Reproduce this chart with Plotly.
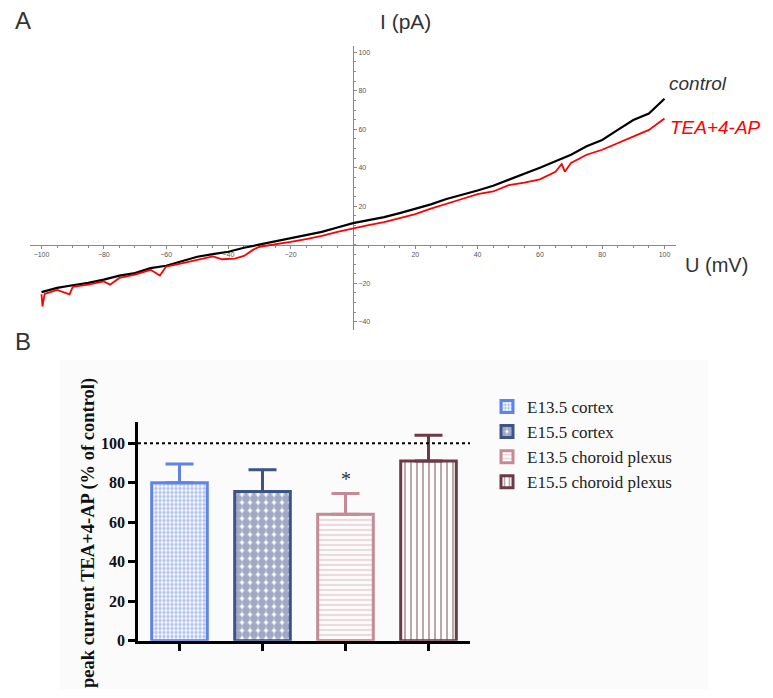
import plotly.graph_objects as go

# ---------------- Panel A data ----------------
u_control = [-100, -97.5, -95, -90, -85, -80, -75, -70, -65, -60, -55, -50, -45, -40, -35, -30, -25,
             -20, -15, -10, -5, 0, 5, 10, 15, 20, 25, 30, 35, 40, 45, 50, 55, 60, 65, 70, 75, 80,
             85, 90, 95, 100]
i_control = [-24.6, -23.5, -22.4, -21.0, -19.8, -18.1, -16.0, -14.7, -12.1, -10.9, -8.7, -6.2, -4.8,
             -3.6, -1.5, 0.2, 1.8, 3.2, 5.0, 6.7, 9.0, 11.3, 12.8, 14.4, 16.5, 18.6, 21.0, 23.8,
             25.8, 28.2, 30.7, 33.8, 36.6, 40.0, 43.4, 46.8, 51.2, 54.5, 59.7, 64.8, 68.2, 75.9]

u_tea = [-100, -99.7, -99, -95, -91, -90, -85, -80, -78, -75, -70, -65, -62, -60, -55, -50, -45,
         -42, -38, -35, -32, -30, -25, -20, -15, -10, -5, 0, 5, 10, 15, 20, 25, 30, 35, 40, 45,
         50, 55, 60, 65, 67, 68, 70, 75, 80, 85, 90, 95, 100]
i_tea = [-25.7, -32.0, -25.5, -23.4, -25.7, -21.9, -20.7, -19.0, -20.7, -17.2, -15.5, -13.0, -16.0,
         -11.3, -9.6, -7.7, -6.0, -7.5, -7.2, -5.8, -2.5, -1.0, 0.2, 1.5, 3.0, 4.6, 6.7, 8.6, 10.2,
         11.8, 13.8, 16.0, 18.8, 21.5, 23.8, 26.3, 27.7, 31.0, 32.3, 34.0, 37.9, 42.0, 38.0, 42.6,
         46.8, 49.4, 52.8, 56.4, 59.7, 65.6]

x_ticks_a = [-100, -80, -60, -40, -20, 20, 40, 60, 80, 100]
y_ticks_a = [-40, -20, 20, 40, 60, 80, 100]

# ---------------- Panel B data ----------------
groups = ["E13.5 cortex", "E15.5 cortex", "E13.5 choroid plexus", "E15.5 choroid plexus"]
means = [80, 75.5, 64, 91]
sems = [9.5, 11, 10.5, 13]
y_ticks_b = [0, 20, 40, 60, 80, 100]

colors = ["#5f84e6", "#3e5488", "#c48b96", "#6c3a47"]
patterns = [".", ".", "-", "|"]
psizes = [4, 8, 5, 6]
psolid = [0.6, 0.75, 0.3, 0.3]

W, H = 773, 698
def px(x): return x / W
def py(y): return 1 - y / H

fig = go.Figure()

fig.add_trace(go.Scatter(x=u_control, y=i_control, mode="lines", line=dict(color="#000000", width=2.2),
                         xaxis="x", yaxis="y", showlegend=False, hoverinfo="skip"))
fig.add_trace(go.Scatter(x=u_tea, y=i_tea, mode="lines", line=dict(color="#ff0000", width=1.8),
                         xaxis="x", yaxis="y", showlegend=False, hoverinfo="skip"))

for k in range(4):
    fig.add_trace(go.Bar(
        x=[groups[k]], y=[means[k]], name=groups[k], xaxis="x2", yaxis="y2", width=0.67,
        marker=dict(color="white", line=dict(color=colors[k], width=3),
                    pattern=dict(shape=patterns[k], fgcolor=colors[k], bgcolor="white",
                                 size=psizes[k], solidity=psolid[k], fillmode="overlay")),
        error_y=dict(type="data", symmetric=False, array=[sems[k]], arrayminus=[0],
                     color=colors[k], thickness=3, width=14),
    ))

axA_font = dict(family="Liberation Sans", size=7, color="#555")
fig.update_layout(
    width=W, height=H, margin=dict(l=0, r=0, t=0, b=0),
    paper_bgcolor="white", plot_bgcolor="rgba(0,0,0,0)",
    barmode="overlay",
    xaxis=dict(domain=[px(30), px(676)], range=[-103.7, 103.7], anchor="free", position=py(248),
               showgrid=False, zeroline=False, showline=True, linecolor="#888", linewidth=1,
               tickvals=x_ticks_a, ticks="outside", ticklen=3, tickcolor="#888",
               minor=dict(ticks="outside", dtick=5, ticklen=2, tickcolor="#888"),
               tickfont=axA_font, layer="below traces"),
    yaxis=dict(domain=[py(334), py(47)], range=[-44.1, 103.1], anchor="free", position=px(353),
               side="right", showgrid=False, zeroline=False, showline=True, linecolor="#888",
               linewidth=1, tickvals=y_ticks_a, ticks="outside", ticklen=3, tickcolor="#888",
               minor=dict(ticks="outside", dtick=5, ticklen=2, tickcolor="#888"),
               tickfont=axA_font, layer="below traces"),
    xaxis2=dict(domain=[px(138), px(470)], range=[-0.5, 3.5], anchor="y2", type="category",
                showgrid=False, zeroline=False, showline=True, linecolor="#000", linewidth=2.5,
                ticks="outside", ticklen=8, tickwidth=2.5, tickcolor="#000", showticklabels=False),
    yaxis2=dict(domain=[py(649), py(428)], range=[0, 110.5], anchor="x2",
                showgrid=False, zeroline=False, showline=True, linecolor="#000", linewidth=2.5,
                tickvals=y_ticks_b, ticks="outside", ticklen=7, tickwidth=2.5, tickcolor="#000",
                tickfont=dict(family="Liberation Serif", size=16, color="#111", weight="bold")),
    legend=dict(x=px(487), y=py(394), xanchor="left", yanchor="top",
                font=dict(family="Liberation Serif", size=17, color="#222"),
                bgcolor="rgba(0,0,0,0)", itemwidth=30, tracegroupgap=0),
    showlegend=True,
)

# background of panel B
fig.add_shape(type="rect", xref="paper", yref="paper", x0=px(60), x1=px(708), y0=0, y1=py(365),
              fillcolor="#fbfbfb", line=dict(width=0), layer="below")
# reference line at 100 %
fig.add_shape(type="line", xref="x2 domain", yref="y2", x0=0, x1=1, y0=100, y1=100,
              line=dict(color="#000", width=2, dash="3px,3px"))

ann = [
    dict(text="A", x=px(13), y=py(21), font=dict(family="Liberation Sans", size=24, color="#333")),
    dict(text="B", x=px(13), y=py(346), font=dict(family="Liberation Sans", size=24, color="#333")),
    dict(text="I (pA)", x=px(378), y=py(22), font=dict(family="Liberation Sans", size=21, color="#333")),
    dict(text="U (mV)", x=px(683), y=py(268), font=dict(family="Liberation Sans", size=20, color="#333")),
    dict(text="<i>control</i>", x=px(667), y=py(85), font=dict(family="Liberation Sans", size=19, color="#333")),
    dict(text="<i>TEA+4-AP</i>", x=px(668), y=py(129), font=dict(family="Liberation Sans", size=19, color="#ff0000")),
]
for a in ann:
    fig.add_annotation(xref="paper", yref="paper", xanchor="left", yanchor="middle", showarrow=False, **a)

fig.add_annotation(xref="paper", yref="paper", x=px(88), y=py(540), xanchor="center", yanchor="middle",
                   text="<b>peak current TEA+4-AP (% of control)</b>", textangle=-90, showarrow=False,
                   font=dict(family="Liberation Serif", size=18.5, color="#111"))
fig.add_annotation(xref="x2", yref="y2", x=groups[2], y=82, text="*", showarrow=False,
                   font=dict(family="Liberation Serif", size=20, color="#333"))

post = (
    "var s=document.documentElement.style;s.margin='0';s.padding='0';s.overflow='hidden';"
    "s.height='698px';s.width='773px';"
    "var b=document.body.style;b.margin='0';b.padding='0';b.overflow='hidden';"
    "b.height='698px';b.width='773px';"
)
fig.write_html("out.html", config={"displayModeBar": False}, post_script=post)
